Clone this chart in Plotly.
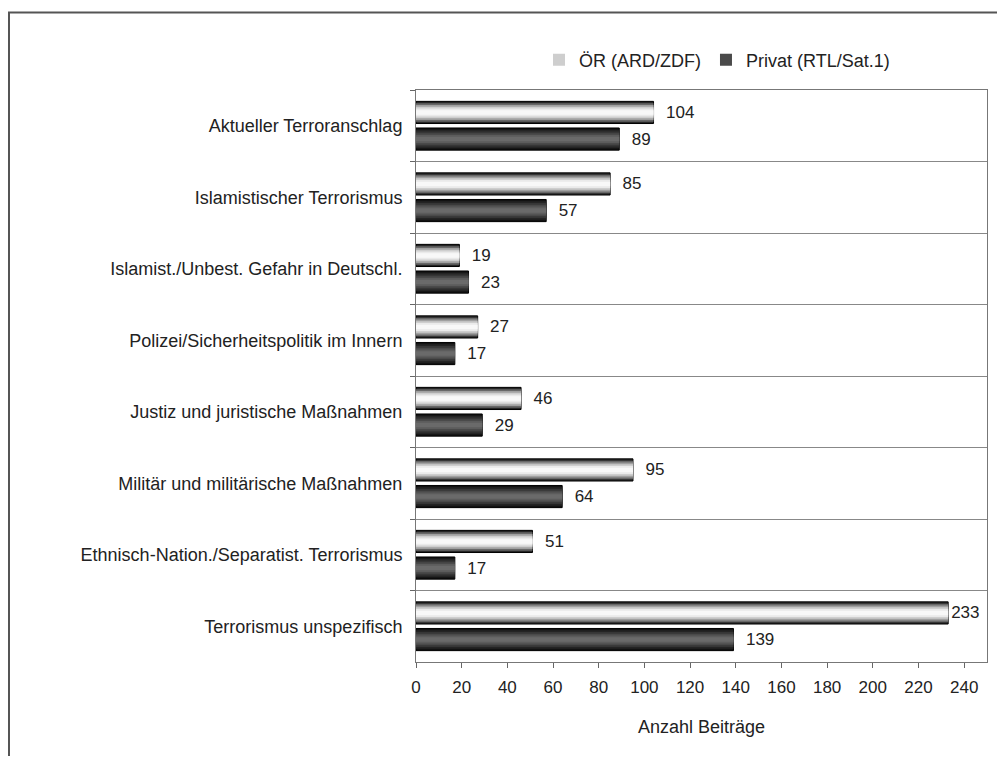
import plotly.graph_objects as go

categories = [
    "Aktueller Terroranschlag",
    "Islamistischer Terrorismus",
    "Islamist./Unbest. Gefahr in Deutschl.",
    "Polizei/Sicherheitspolitik im Innern",
    "Justiz und juristische Maßnahmen",
    "Militär und militärische Maßnahmen",
    "Ethnisch-Nation./Separatist. Terrorismus",
    "Terrorismus unspezifisch",
]
oer = [104, 85, 19, 27, 46, 95, 51, 233]
privat = [89, 57, 23, 17, 29, 64, 17, 139]
x_ticks = list(range(0, 241, 20))

FONT = "Liberation Sans, Arial, sans-serif"
BAR_H = 0.31

# stacked layers fake the cylinder gradient of the original bars
scales = [1.0, 0.84, 0.68, 0.52, 0.36, 0.2]
series = [
    ("ÖR (ARD/ZDF)", oer, -0.186,
     ["#262626", "#686868", "#a0a0a0", "#cecece", "#eaeaea", "#f8f8f8"], 3),
    ("Privat (RTL/Sat.1)", privat, 0.186,
     ["#121212", "#242424", "#363636", "#4a4a4a", "#5c5c5c", "#6a6a6a"], 3),
]


def label(v):
    # labels sit a bit away from the bar, except where there is no room left
    return str(v) if v > 220 else "\u2007" + str(v)


fig = go.Figure()
for name, vals, center, colors, legend_layer in series:
    for k, (s, c) in enumerate(zip(scales, colors)):
        h = BAR_H * s
        fig.add_trace(go.Bar(
            x=vals, y=categories, orientation="h",
            name=name, legendgroup=name,
            showlegend=(k == legend_layer),
            width=h, offset=center - h / 2,
            marker=dict(color=c, line=dict(color="#000000", width=1 if k == 0 else 0)),
            text=[label(v) for v in vals] if k == 0 else None,
            textposition="outside" if k == 0 else "none",
            textfont=dict(size=17, color="#222222", family=FONT),
            cliponaxis=False,
            hoverinfo="x+y+name",
        ))

# the page adds an 8px body margin, so the figure is drawn 16px smaller
fig.update_layout(
    width=989, height=748,
    barmode="overlay",
    paper_bgcolor="white", plot_bgcolor="white",
    font=dict(family=FONT, size=18, color="#222222"),
    margin=dict(l=408, r=10, t=82, b=94),
    legend=dict(orientation="h", x=0.2154, xanchor="left", y=1.0524, yanchor="middle",
                font=dict(size=18), traceorder="normal", itemwidth=30),
    xaxis=dict(range=[0, 250], tickvals=x_ticks, ticks="outside", ticklen=5,
               tickcolor="#666666", showgrid=False, zeroline=False,
               showline=True, linecolor="#777777", mirror=True,
               tickfont=dict(size=17), ticklabelstandoff=5,
               title=dict(text="Anzahl Beiträge", font=dict(size=18), standoff=23)),
    yaxis=dict(type="category", categoryorder="array", categoryarray=categories,
               range=[7.5, -0.5], tickson="boundaries", ticks="outside", ticklen=5,
               tickcolor="#666666", showgrid=True, gridcolor="#888888", gridwidth=1,
               showline=True, linecolor="#777777", mirror=True,
               ticklabelstandoff=9),
    shapes=[dict(type="rect", xref="paper", yref="paper",
                 x0=-0.7128, x1=1.2, y0=-0.4, y1=1.1355,
                 line=dict(color="#555555", width=2), layer="below")],
)

fig.write_html("out.html")
